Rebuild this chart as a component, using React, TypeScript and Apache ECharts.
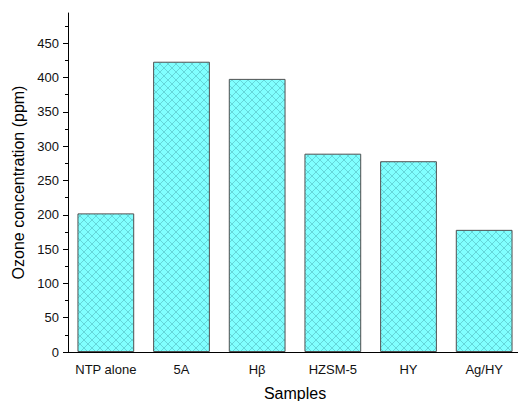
import React, { useEffect, useRef } from "react";
import * as echarts from "echarts";

const categories = ["NTP alone", "5A", "Hβ", "HZSM-5", "HY", "Ag/HY"];
const ozoneValues = [202, 423, 398, 289, 278, 178];
const majorTicks = [0, 50, 100, 150, 200, 250, 300, 350, 400, 450];
const minorTicks = [25, 75, 125, 175, 225, 275, 325, 375, 425, 475];
const yMax = 494;

function makePattern(): string {
  const c = document.createElement("canvas");
  c.width = 8;
  c.height = 8;
  const ctx = c.getContext("2d");
  if (!ctx) return "";
  ctx.fillStyle = "#80ffff";
  ctx.fillRect(0, 0, 8, 8);
  ctx.strokeStyle = "rgba(40,125,135,0.45)";
  ctx.lineWidth = 0.7;
  ctx.beginPath();
  ctx.moveTo(-1, -1);
  ctx.lineTo(9, 9);
  ctx.moveTo(-1, 9);
  ctx.lineTo(9, -1);
  ctx.stroke();
  return c.toDataURL();
}

export default function App() {
  const ref = useRef<HTMLDivElement>(null);
  useEffect(() => {
    if (!ref.current) return;
    const chart = echarts.init(ref.current, undefined, { renderer: "svg" });
    const pattern = makePattern();
    const font = "'Liberation Sans', Arial, sans-serif";
    const gridRect = { left: 68, top: 13, right: -4, bottom: 49, containLabel: false, outerBoundsMode: "none" };
    chart.setOption({
      animation: false,
      backgroundColor: "#ffffff",
      grid: [{ ...gridRect }, { ...gridRect }],
      xAxis: [
        {
          type: "category",
          gridIndex: 0,
          data: categories,
          name: "Samples",
          nameLocation: "middle",
          nameGap: 33,
          nameTextStyle: { fontFamily: font, fontSize: 16, color: "#000" },
          axisLine: { lineStyle: { color: "#000", width: 1 } },
          axisTick: { alignWithLabel: true, interval: 0, length: 5, lineStyle: { color: "#000" } },
          axisLabel: { interval: 0, fontFamily: font, fontSize: 13, color: "#111", margin: 11 },
          splitLine: { show: false },
        },
        {
          type: "category",
          gridIndex: 1,
          data: categories,
          axisLine: { show: false },
          axisTick: { alignWithLabel: false, interval: 0, length: 3, lineStyle: { color: "#000" } },
          axisLabel: { show: false },
          splitLine: { show: false },
        },
      ],
      yAxis: [
        {
          type: "value",
          gridIndex: 0,
          min: 0,
          max: yMax,
          interval: 50,
          name: "Ozone concentration (ppm)",
          nameLocation: "middle",
          nameGap: 40,
          nameTextStyle: { fontFamily: font, fontSize: 16, color: "#000" },
          axisLine: { show: true, lineStyle: { color: "#000", width: 1 } },
          axisTick: { show: true, length: 5, customValues: majorTicks, lineStyle: { color: "#000" } },
          axisLabel: { fontFamily: font, fontSize: 13, color: "#111", margin: 9, customValues: majorTicks },
          splitLine: { show: false },
        },
        {
          type: "value",
          gridIndex: 1,
          min: 0,
          max: yMax,
          interval: 50,
          axisLine: { show: false },
          axisTick: { show: true, length: 3, customValues: minorTicks, lineStyle: { color: "#000" } },
          axisLabel: { show: false },
          splitLine: { show: false },
        },
      ],
      series: [
        {
          type: "bar",
          xAxisIndex: 0,
          yAxisIndex: 0,
          data: ozoneValues,
          barWidth: "75%",
          itemStyle: {
            color: {
              image: pattern,
              repeat: "repeat",
              imageWidth: 8,
              imageHeight: 8,
            } as any,
            borderColor: "#505050",
            borderWidth: 1,
          },
        },
      ],
    });
    return () => chart.dispose();
  }, []);
  return <div ref={ref} style={{ width: 518, height: 401, position: "absolute", left: 0, top: 0 }} />;
}
